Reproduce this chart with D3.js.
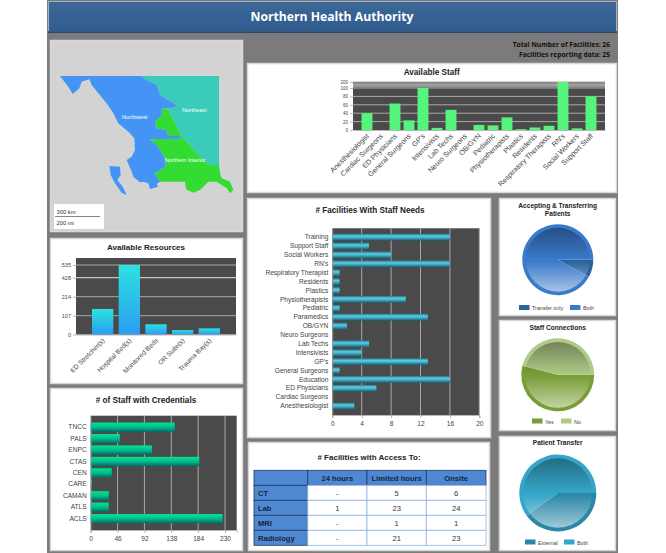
<!DOCTYPE html>
<html>
<head>
<meta charset="utf-8">
<title>Northern Health Authority</title>
<script src="https://cdnjs.cloudflare.com/ajax/libs/d3/7.8.5/d3.min.js"></script>
<style>
  html, body { margin: 0; padding: 0; background: #fff; }
  svg { display: block; }
  text { font-family: "Liberation Sans", Arial, sans-serif; }
  .title { font-weight: bold; fill: #222; text-anchor: middle; }
  .axis text { fill: #444; }
  .axis path, .axis line { stroke: #999; stroke-width: 0.7; }
</style>
</head>
<body>
<div id="app"></div>
<script>
// resources
const resourceNames = ['ED Stretcher(s)', 'Hospital Bed(s)', 'Monitored Beds', 'OR Suite(s)', 'Trauma Bay(s)'];
const resourceValues = [145, 535, 58, 25, 35];
const resourceTicks = [0, 107, 214, 428, 535];

// credentials
const credentialNames = ['TNCC', 'PALS', 'ENPC', 'CTAS', 'CEN', 'CARE', 'CAMAN', 'ATLS', 'ACLS'];
const credentialValues = [144, 50, 105, 186, 36, 2, 31, 31, 226];
const credentialTicks = [0, 46, 92, 138, 184, 230];

// available staff
const staffNames = ['Anesthesiologist', 'Cardiac Surgeons', 'ED Physicians', 'General Surgeons', "GP's", 'Intensivists', 'Lab Techs', 'Neuro Surgeons', 'OB/GYN', 'Pediatric', 'Physiotherapists', 'Plastics', 'Residents', 'Respiratory Therapists', "RN's", 'Social Workers', 'Support Staff'];
const staffValues = [40, 0, 63, 23, 102, 5, 48, 0, 12, 11, 30, 2, 6, 10, 200, 4, 80];
const staffTicks = [0, 20, 40, 60, 80, 100, 200];
const staffGridLines = [20, 40, 60, 80, 100, 120, 140, 160, 180, 200];

// staff needs
const needNames = ['Training', 'Support Staff', 'Social Workers', "RN's", 'Respiratory Therapist', 'Residents', 'Plastics', 'Physiotherapists', 'Pediatric', 'Paramedics', 'OB/GYN', 'Neuro Surgeons', 'Lab Techs', 'Intensivists', "GP's", 'General Surgeons', 'Education', 'ED Physicians', 'Cardiac Surgeons', 'Anesthesiologist'];
const needValues = [16, 5, 8, 16, 1, 1, 1, 10, 1, 13, 2, 0, 5, 4, 13, 1, 16, 6, 0, 3];
const needTicks = [0, 4, 8, 12, 16, 20];

// access table
const accessColumns = ['', '24 hours', 'Limited hours', 'Onsite'];
const accessRows = ['CT', 'Lab', 'MRI', 'Radiology'];
const access24 = ['-', '1', '-', '-'];
const accessLimited = ['5', '23', '1', '21'];
const accessOnsite = ['6', '24', '1', '23'];

// pies
const acceptLabels = ['Transfer only', 'Both'];
const acceptValues = [2, 23];
const connectLabels = ['Yes', 'No'];
const connectValues = [54, 46];
const transferLabels = ['External', 'Both'];
const transferValues = [10, 15];

// map outlines, in map units
const northwest = [[180,228],[422,228],[440,240],[470,255],[480,285],[505,300],[533,318],[510,325],[485,325],[485,345],[465,365],[470,385],[500,390],[505,408],[540,408],[545,416],[447,418],[470,435],[485,460],[498,480],[495,500],[475,515],[463,520],[480,545],[470,552],[475,560],[450,567],[445,550],[430,545],[420,547],[400,530],[393,510],[380,480],[395,470],[405,450],[403,415],[385,395],[355,370],[340,340],[320,310],[295,280],[275,255],[268,238],[245,245],[238,265],[218,282],[205,260]];
const haidaGwaii = [[328,498],[360,500],[362,525],[352,540],[368,560],[380,585],[365,578],[345,550],[332,525]];
const northeast = [[422,228],[657,228],[657,495],[625,495],[600,470],[575,440],[550,415],[545,408],[525,370],[505,330],[485,325],[510,325],[533,318],[505,300],[480,285],[470,255],[440,240]];
const interior = [[485,325],[505,330],[525,370],[545,408],[550,415],[575,440],[600,470],[625,495],[657,495],[660,520],[665,535],[690,545],[700,570],[690,580],[680,565],[650,545],[625,545],[600,570],[580,578],[558,568],[555,545],[480,545],[463,520],[475,515],[495,500],[498,480],[485,460],[470,435],[447,418],[545,416],[540,408],[505,408],[500,390],[470,385],[465,365],[485,345]];
const regionNames = [['Northwest', 404, 352], ['Northeast', 583, 331], ['Northern Interior', 555, 480]];

(() => {
  const width = 666;
  const height = 553;
  const gridColor = '#a8a8a8';
  const plotColor = '#4a4a4a';

  const svg = d3.select('#app').append('svg')
    .attr('width', width)
    .attr('height', height);
  const defs = svg.append('defs');

  const addGradient = (id, stops) => {
    const g = defs.append('linearGradient').attr('id', id)
      .attr('x1', '0%').attr('y1', '0%').attr('x2', '0%').attr('y2', '100%');
    stops.forEach(s => g.append('stop')
      .attr('offset', s[0]).attr('stop-color', s[1]).attr('stop-opacity', s[2] === undefined ? 1 : s[2]));
  };
  addGradient('header-fill', [['0%', '#3d6897'], ['100%', '#2f5c8f']]);
  addGradient('resource-fill', [['0%', '#2ce2e0'], ['100%', '#2a9df2']]);
  addGradient('credential-fill', [['0%', '#00e592'], ['55%', '#00b888'], ['100%', '#006f6c']]);
  addGradient('need-fill', [['0%', '#23839c'], ['35%', '#5fcbe2'], ['60%', '#3fa9c4'], ['100%', '#155f73']]);
  addGradient('pie-gloss', [['0%', '#000', 0.35], ['50%', '#000', 0], ['52%', '#fff', 0], ['100%', '#fff', 0.55]]);

  // page background
  svg.append('rect').attr('x', 47).attr('y', 0).attr('width', 571).attr('height', height).attr('fill', '#7b7b7b');

  // header
  svg.append('rect').attr('x', 48.5).attr('y', 1.5).attr('width', 568).attr('height', 30)
    .attr('fill', 'url(#header-fill)').attr('stroke', '#9fb2c9');
  svg.append('line').attr('x1', 48).attr('x2', 617).attr('y1', 32).attr('y2', 32)
    .attr('stroke', '#17365c').attr('stroke-width', 1.5);
  svg.append('text').text('Northern Health Authority')
    .attr('x', 332).attr('y', 21)
    .style('font-family', '"Open Sans", sans-serif')
    .style('font-weight', 700).style('font-size', '12.2px')
    .style('fill', '#fff').style('text-anchor', 'middle');

  svg.selectAll('.facility-note')
    .data(['Total Number of Facilities: 26', 'Facilities reporting data: 25'])
    .enter().append('text')
    .attr('class', 'facility-note')
    .text(d => d)
    .attr('x', 610)
    .attr('y', (d, i) => 47 + (i * 10))
    .style('font-family', '"Open Sans", sans-serif')
    .style('font-weight', 700).style('font-size', '6.7px')
    .style('fill', '#111').style('text-anchor', 'end');

  const panel = (x, y, w, h, fill) => svg.append('rect')
    .attr('x', x + 0.5).attr('y', y + 0.5).attr('width', w - 1).attr('height', h - 1)
    .attr('fill', fill || '#fff').attr('stroke', '#d8d8d8').attr('stroke-width', 1.5);

  const title = (text, x, y, size) => svg.append('text').attr('class', 'title')
    .text(text).attr('x', x).attr('y', y).style('font-size', `${size}px`);

  panel(50, 40, 193, 192, '#d3d3d3');
  panel(50, 238, 193, 146);
  panel(50, 388, 193, 163);
  panel(247, 63, 370, 130);
  panel(247, 198, 244, 240);
  panel(248, 442, 242, 109);
  panel(499, 198, 117, 118);
  panel(499, 320, 117, 111);
  panel(499, 436, 117, 115);

  // map
  const mapX = d3.scaleLinear().domain([0, 750]).range([0, 250]);
  const mapY = d3.scaleLinear().domain([0, 720]).range([0, 240]);
  const mapLine = d3.line().x(d => mapX(d[0])).y(d => mapY(d[1])).curve(d3.curveLinearClosed);
  const mapShapes = [
    { pts: northeast, fill: '#3bcbba' },
    { pts: interior, fill: '#33dc33' },
    { pts: northwest, fill: '#4494f5' },
    { pts: haidaGwaii, fill: '#4494f5' },
  ];
  svg.selectAll('.region').data(mapShapes).enter().append('path')
    .attr('class', 'region')
    .attr('d', d => mapLine(d.pts))
    .attr('fill', d => d.fill);
  svg.selectAll('.region-name').data(regionNames).enter().append('text')
    .attr('class', 'region-name')
    .text(d => d[0])
    .attr('x', d => mapX(d[1]))
    .attr('y', d => mapY(d[2]) + 2)
    .style('font-size', '5.6px').style('fill', '#fff').style('text-anchor', 'middle');

  // scale box
  svg.append('rect').attr('x', 54).attr('y', 204).attr('width', 50).attr('height', 25).attr('fill', '#fff');
  svg.append('line').attr('x1', 55).attr('x2', 100).attr('y1', 216.5).attr('y2', 216.5).attr('stroke', '#666').attr('stroke-width', 0.8);
  svg.selectAll('.scale-label').data(['300 km', '200 mi']).enter().append('text')
    .attr('class', 'scale-label')
    .text(d => d)
    .attr('x', 56.5)
    .attr('y', (d, i) => 213.5 + (i * 11.5))
    .style('font-size', '5.8px').style('fill', '#333');

  const styleAxis = (g, size) => {
    g.attr('class', 'axis');
    g.selectAll('text').style('font-size', `${size}px`);
  };

  // vertical bar chart with a band x axis and a stepped y axis
  const columnChart = (o) => {
    const x = d3.scaleBand().domain(o.names).range([o.left, o.right])
      .paddingInner(o.inner).paddingOuter((1 + o.inner) / 2);
    const y = d3.scaleLinear().domain(o.domain).range(o.range);
    svg.append('rect').attr('x', o.left).attr('y', o.range[o.range.length - 1])
      .attr('width', o.right - o.left).attr('height', o.range[0] - o.range[o.range.length - 1])
      .attr('fill', plotColor);
    svg.selectAll(`.grid-${o.id}`).data(o.gridLines).enter().append('line')
      .attr('class', `grid-${o.id}`)
      .attr('x1', o.left).attr('x2', o.right)
      .attr('y1', d => y(d)).attr('y2', d => y(d))
      .attr('stroke', d => (d === o.brightLine ? '#e2e2e2' : gridColor))
      .attr('stroke-width', 1);
    svg.selectAll(`.bar-${o.id}`).data(o.values).enter().append('rect')
      .attr('class', `bar-${o.id}`)
      .attr('x', (d, i) => x(o.names[i]))
      .attr('y', d => y(d))
      .attr('width', x.bandwidth())
      .attr('height', d => o.range[0] - y(d))
      .attr('fill', o.fill);
    const yAxis = svg.append('g').attr('transform', `translate(${o.left},0)`)
      .call(d3.axisLeft(y).tickValues(o.ticks).tickSize(3).tickPadding(2));
    styleAxis(yAxis, o.tickSize);
    yAxis.select('.domain').remove();
    const xAxis = svg.append('g').attr('transform', `translate(0,${o.range[0]})`)
      .call(d3.axisBottom(x).tickSize(0));
    styleAxis(xAxis, o.labelSize);
    xAxis.select('.domain').attr('stroke', '#999');
    // labels end just under the bar centre
    xAxis.selectAll('text')
      .attr('text-anchor', 'end')
      .attr('x', -2.85)
      .attr('y', 6.35)
      .attr('dy', 0)
      .attr('transform', 'rotate(-45)');
  };

  // horizontal bar chart
  const rowChart = (o) => {
    const x = d3.scaleLinear().domain(o.domain).range([o.left, o.right]);
    const y = d3.scaleBand().domain(o.names).range([o.top, o.bottom])
      .paddingInner(o.inner).paddingOuter((1 + o.inner) / 2);
    svg.append('rect').attr('x', o.left).attr('y', o.top)
      .attr('width', o.right - o.left).attr('height', o.bottom - o.top)
      .attr('fill', plotColor);
    svg.selectAll(`.grid-${o.id}`).data(o.ticks.slice(1)).enter().append('line')
      .attr('class', `grid-${o.id}`)
      .attr('y1', o.top).attr('y2', o.bottom)
      .attr('x1', d => x(d)).attr('x2', d => x(d))
      .attr('stroke', gridColor).attr('stroke-width', 1);
    svg.selectAll(`.bar-${o.id}`).data(o.values).enter().append('rect')
      .attr('class', `bar-${o.id}`)
      .attr('x', o.left)
      .attr('y', (d, i) => y(o.names[i]))
      .attr('width', d => x(d) - o.left)
      .attr('height', y.bandwidth())
      .attr('fill', o.fill);
    const yAxis = svg.append('g').attr('transform', `translate(${o.left},0)`)
      .call(d3.axisLeft(y).tickSize(0).tickPadding(4));
    styleAxis(yAxis, o.labelSize);
    const xAxis = svg.append('g').attr('transform', `translate(0,${o.bottom})`)
      .call(d3.axisBottom(x).tickValues(o.ticks).tickSize(3).tickPadding(3));
    styleAxis(xAxis, o.labelSize);
  };

  title('Available Resources', 146, 250, 8);
  columnChart({
    id: 'res', names: resourceNames, values: resourceValues, ticks: resourceTicks,
    gridLines: resourceTicks.slice(1), brightLine: 428,
    domain: [0, 107, 214, 428, 535, 575], range: [334.5, 315.7, 296.7, 277.7, 265, 258],
    left: 76, right: 236, inner: 0.2, fill: 'url(#resource-fill)', tickSize: 5.5, labelSize: 6.6,
  });

  title('# of Staff with Credentials', 146, 403, 8.2);
  rowChart({
    id: 'cred', names: credentialNames, values: credentialValues, ticks: credentialTicks,
    domain: [0, 250], left: 90.7, right: 236.7, top: 415.7, bottom: 530,
    inner: 0.2, fill: 'url(#credential-fill)', labelSize: 6.6,
  });

  title('Available Staff', 431.7, 75, 8.2);
  columnChart({
    id: 'staff', names: staffNames, values: staffValues, ticks: staffTicks,
    gridLines: staffGridLines,
    domain: [0, 100, 200], range: [130, 88, 82],
    left: 353, right: 605, inner: 0.22, fill: '#55f47c', tickSize: 4.5, labelSize: 7.1,
  });

  title('# Facilities With Staff Needs', 370, 213, 8.2);
  rowChart({
    id: 'need', names: needNames, values: needValues, ticks: needTicks,
    domain: [0, 20], left: 332.3, right: 479.3, top: 228.3, bottom: 415,
    inner: 0.25, fill: 'url(#need-fill)', labelSize: 6.6,
  });

  // access table
  title('# Facilities with Access To:', 369, 460, 8);
  const colX = d3.scaleOrdinal().domain([0, 1, 2, 3]).range([254, 307.7, 367, 426.3]);
  const colW = [53.7, 59.3, 59.3, 59.7];
  const rowY = d3.scaleLinear().domain([0, 5]).range([470.3, 545.3]);
  const tableRows = [accessColumns].concat(accessRows.map((r, i) => [r, access24[i], accessLimited[i], accessOnsite[i]]));
  const cells = tableRows.flatMap((row, r) => row.map((text, c) => ({ text, r, c })));
  const isHead = d => d.r === 0 || d.c === 0;
  svg.selectAll('.cell').data(cells).enter().append('rect')
    .attr('class', 'cell')
    .attr('x', d => colX(d.c))
    .attr('y', d => rowY(d.r))
    .attr('width', d => colW[d.c])
    .attr('height', rowY(1) - rowY(0))
    .attr('fill', d => (isHead(d) ? '#4f88d2' : '#fff'))
    .attr('stroke', d => (isHead(d) ? '#1f3b63' : '#8fb4e6'))
    .attr('stroke-width', 0.8);
  svg.selectAll('.cell-text').data(cells).enter().append('text')
    .attr('class', 'cell-text')
    .text(d => d.text)
    .attr('x', d => (d.c === 0 ? colX(0) + 4 : colX(d.c) + (colW[d.c] / 2)))
    .attr('y', d => rowY(d.r) + 10.5)
    .style('font-size', '7.6px')
    .style('font-weight', d => (isHead(d) ? 700 : 400))
    .style('fill', d => (isHead(d) ? '#16263e' : '#333'))
    .style('text-anchor', d => (d.c === 0 ? 'start' : 'middle'));

  // glossy pies
  const pieChart = (o) => {
    const layout = d3.pie().sort(null).startAngle(Math.PI / 2).endAngle(Math.PI * 2.5);
    const arc = d3.arc().innerRadius(0).outerRadius(o.r);
    const g = svg.append('g').attr('transform', `translate(${o.cx},${o.cy})`);
    g.selectAll('path').data(layout(o.values)).enter().append('path')
      .attr('d', arc)
      .attr('fill', (d, i) => o.colors[i]);
    g.append('circle').attr('r', o.r * 0.9).attr('fill', 'url(#pie-gloss)');
    const legend = svg.selectAll(`.legend-${o.id}`).data(o.labels).enter().append('g')
      .attr('class', `legend-${o.id}`)
      .attr('transform', (d, i) => `translate(${o.legendX[i]},${o.legendY})`);
    legend.append('rect').attr('width', 10.5).attr('height', 5).attr('fill', (d, i) => o.colors[i]);
    legend.append('text').text(d => d).attr('x', 13).attr('y', 5)
      .style('font-size', '5.4px').style('fill', '#444');
  };

  title('Accepting & Transferring', 557.7, 208, 6.6);
  title('Patients', 557.7, 216, 6.6);
  pieChart({
    id: 'accept', labels: acceptLabels, values: acceptValues, colors: ['#2c629c', '#3a7acb'],
    cx: 557.8, cy: 259.7, r: 35.5, legendX: [519, 570], legendY: 305,
  });

  title('Staff Connections', 557.7, 330, 6.6);
  pieChart({
    id: 'connect', labels: connectLabels, values: connectValues, colors: ['#7a9c36', '#afcb87'],
    cx: 557.7, cy: 374.8, r: 36.5, legendX: [532, 561], legendY: 418.5,
  });

  title('Patient Transfer', 557.7, 445, 6.6);
  pieChart({
    id: 'transfer', labels: transferLabels, values: transferValues, colors: ['#2a87a8', '#35a6c9'],
    cx: 557.8, cy: 493, r: 38.5, legendX: [525, 564], legendY: 539.5,
  });
})();
</script>
</body>
</html>
